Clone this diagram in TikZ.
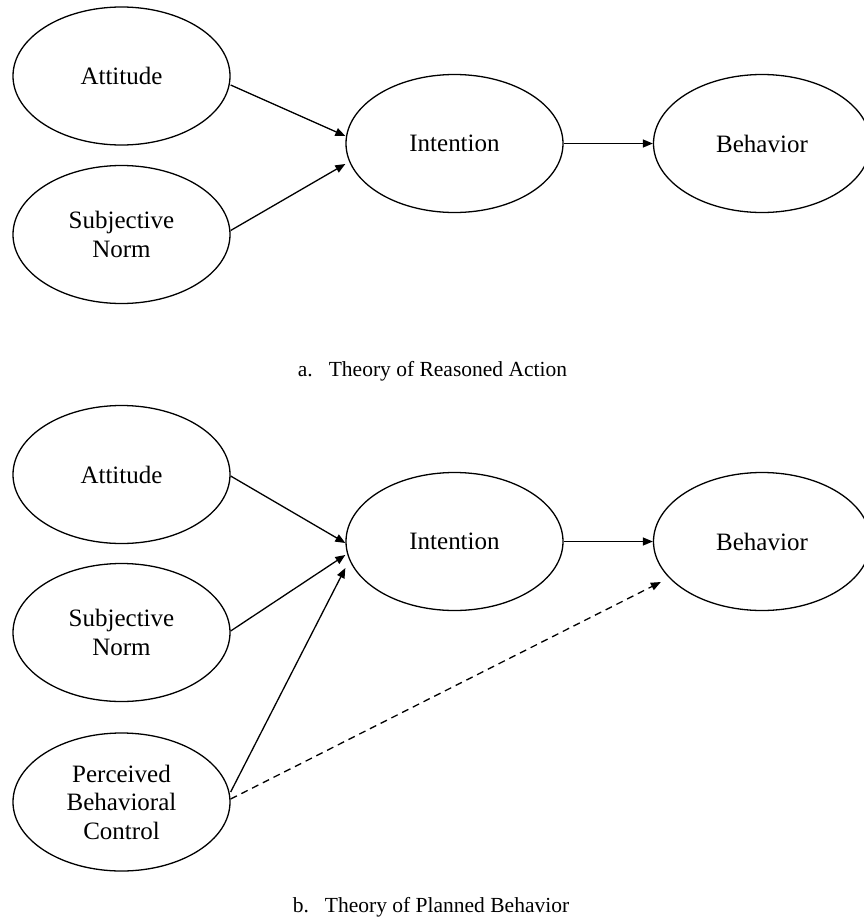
\documentclass[tikz,border=0pt]{standalone}
\usepackage{fontspec}
\setmainfont{Liberation Serif}
\usetikzlibrary{shapes.geometric,arrows.meta,calc}
\tikzset{
  oval/.style={draw=black, line width=1.3pt, ellipse, inner sep=0pt,
    minimum width=217pt, minimum height=138pt, align=center,
    font=\fontsize{25}{28.5}\selectfont},
  link/.style={draw=black, line width=1.3pt, -{Triangle[length=10pt,width=8pt]}},
  dlink/.style={link, dash pattern=on 7pt off 5pt},
  caption/.style={font=\fontsize{21.5}{24}\selectfont, inner sep=0pt}
}
\begin{document}
\begin{tikzpicture}[x=1pt,y=-1pt]
\useasboundingbox (0,0) rectangle (863,921);
% ---- panel a
\node[oval] (att1) at (121.5,76) {Attitude};
\node[oval] (sn1) at (121.5,234.5) {Subjective\\Norm};
\node[oval] (int1) at (454.5,143.5) {Intention};
\node[oval] (beh1) at (762,143.5) {Behavior};
\node[caption] (capa) at (432.5,371) {a.\hspace{16pt}Theory of Reasoned Action};
\draw[link] ($(att1.east)+(0,9)$) -- ($(int1.west)+(0,-7.5)$);
\draw[link] ($(sn1.east)+(0,-4)$) -- ($(int1.west)+(0,20.5)$);
\draw[link] (int1.east) -- (beh1.west);
% ---- panel b
\node[oval] (att2) at (121.5,474.5) {Attitude};
\node[oval] (sn2) at (121.5,632.5) {Subjective\\Norm};
\node[oval] (pbc) at (121.5,802) {Perceived\\Behavioral\\Control};
\node[oval] (int2) at (454.5,541.5) {Intention};
\node[oval] (beh2) at (762,541.5) {Behavior};
\node[caption] (capb) at (431,907) {b.\hspace{16pt}Theory of Planned Behavior};
\draw[link] ($(att2.east)+(0,1.5)$) -- ($(int2.west)+(0,1.5)$);
\draw[link] ($(sn2.east)+(0,-1.5)$) -- ($(int2.west)+(0,13.5)$);
\draw[link] ($(pbc.east)+(0,-10)$) -- ($(int2.west)+(0,26.5)$);
\draw[dlink] ($(pbc.east)+(0,-3)$) -- ($(beh2.west)+(8,40.5)$);
\draw[link] (int2.east) -- (beh2.west);
\end{tikzpicture}
\end{document}
